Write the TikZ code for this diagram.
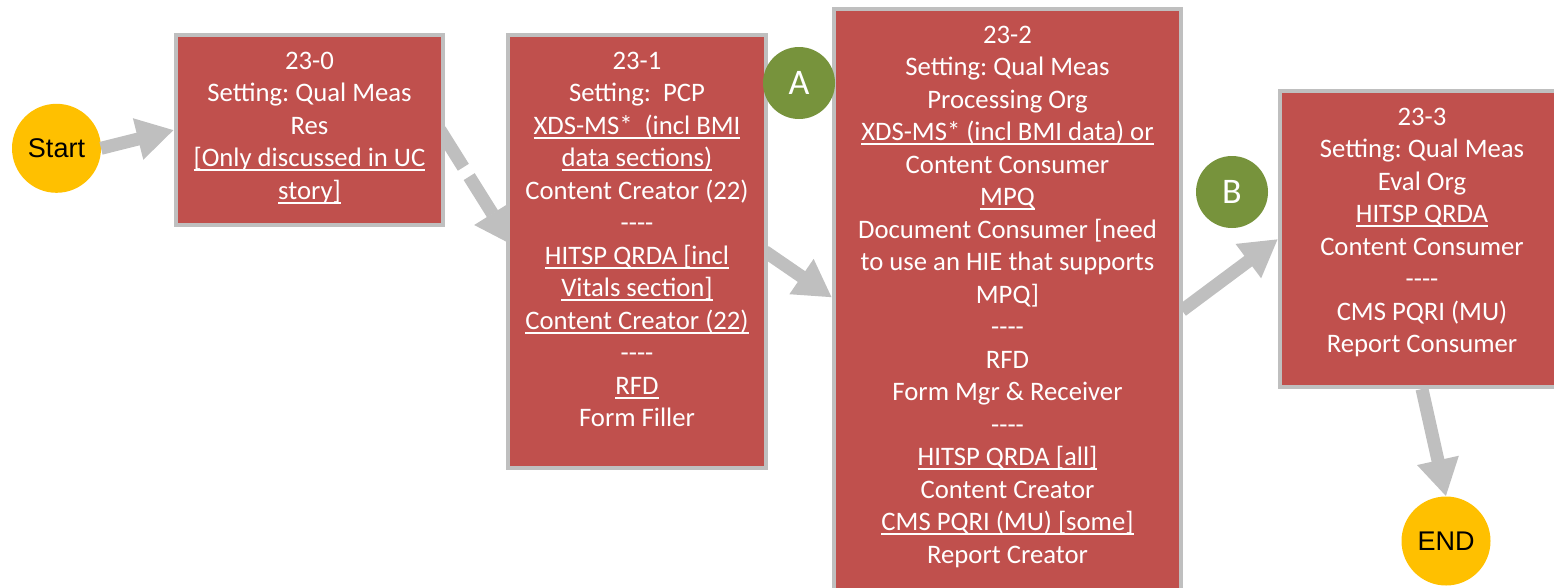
\documentclass[tikz,border=0pt]{standalone}
\usepackage{fontspec}
\setmainfont{Carlito}
\newfontfamily\arialfont{Liberation Sans}
\usetikzlibrary{arrows.meta,calc}
\definecolor{boxred}{HTML}{C0504D}
\definecolor{bordergray}{HTML}{BFBFBF}
\definecolor{arrowgray}{HTML}{BFBFBF}
\definecolor{okgreen}{HTML}{77933C}
\definecolor{startyellow}{HTML}{FFC000}
\newsavebox\ulbox
\newcommand\uln[1]{\sbox\ulbox{#1}\rlap{\rule[-4.5pt]{\wd\ulbox}{2pt}}\usebox\ulbox}
\newcommand\fourdash{-{}-{}-{}-}
\frenchspacing
\begin{document}
\begin{tikzpicture}[x=1pt,y=-1pt,
  stepbox/.style={draw=bordergray, fill=boxred, line width=4pt, inner sep=0pt, rectangle},
  txt/.style={text=white, align=center, inner sep=0pt, anchor=north,
    font=\fontsize{26.7}{32.5}\selectfont},
  term/.style={circle, fill=startyellow, inner sep=0pt, outer sep=0pt, minimum size=89pt,
    font=\arialfont\fontsize{27}{30}\selectfont, text=black},
  marker/.style={circle, fill=okgreen, inner sep=0pt, outer sep=0pt, minimum size=72pt,
    font=\fontsize{36}{40}\selectfont, text=white},
  conn/.style={draw=arrowgray, line width=13pt, -{Triangle[length=37pt,width=40pt]}},
  dconn/.style={conn, dash pattern=on 44pt off 11pt}]
\useasboundingbox (0,0) rectangle (1554,587);

% terminal nodes
\node[term] (start) at (56.5,148.3) {Start};
\node[term] (end) at (1446,541) {END};

% box geometry (only boxes' positions; drawn after arrows)
\path node[stepbox, minimum width=267pt, minimum height=190pt, draw=none, fill=none] (b0) at (309.5,130) {}
      node[stepbox, minimum width=258pt, minimum height=433pt, draw=none, fill=none] (b1) at (637,251.5) {}
      node[stepbox, minimum width=347pt, minimum height=609pt, draw=none, fill=none] (b2) at (1007.5,313.5) {}
      node[stepbox, minimum width=284pt, minimum height=296pt, draw=none, fill=none] (b3) at (1422,239) {};

% connectors
\draw[conn] (start.east) -- (b0.west);
\draw[dconn] ($(b0.east)+(-5,0)$) -- ($(b1.west)+(6,-6.5)$);
\draw[conn] ($(b1.east)+(-3,0)$) -- ($(b2.west)+(0,-16)$);
\draw[conn] ($(b2.east)+(-1,-3)$) -- (b3.west);
\draw[conn] (b3.south) -- (end.north);

% boxes drawn over the connectors
\node[stepbox, minimum width=267pt, minimum height=190pt] (c0) at (b0.center) {};
\node[stepbox, minimum width=258pt, minimum height=433pt] (c1) at (b1.center) {};
\node[stepbox, minimum width=347pt, minimum height=609pt] (c2) at (b2.center) {};
\node[stepbox, minimum width=284pt, minimum height=296pt] (c3) at (b3.center) {};

% texts
\node[txt] (t0) at ([yshift=-13.5pt]c0.north) {\strut 23-0\\ Setting: Qual Meas\\ Res\\ \uln{[Only discussed in UC}\\ \uln{story]}};
\node[txt] (t1) at ([yshift=-13.5pt]c1.north) {\strut 23-1\\ Setting:\ \ PCP\\ \uln{XDS-MS*\ \ (incl BMI}\\ \uln{data sections)}\\ Content Creator (22)\\ \fourdash\\ \uln{HITSP QRDA [incl}\\ \uln{Vitals section]}\\ \uln{Content Creator (22)}\\ \fourdash\\ \uln{RFD}\\ Form Filler};
\node[txt] (t2) at ([yshift=-13.5pt]c2.north) {\strut 23-2\\ Setting: Qual Meas\\ Processing Org\\ \uln{XDS-MS* (incl BMI data) or}\\ Content Consumer\\ \uln{MPQ}\\ Document Consumer [need\\ to use an HIE that supports\\ MPQ]\\ \fourdash\\ RFD\\ Form Mgr \& Receiver\\ \fourdash\\ \uln{HITSP QRDA [all]}\\ Content Creator\\ \uln{CMS PQRI (MU) [some]}\\ Report Creator};
\node[txt] (t3) at ([yshift=-13.5pt]c3.north) {\strut 23-3\\ Setting: Qual Meas\\ Eval Org\\ \uln{HITSP QRDA}\\ Content Consumer\\ \fourdash\\ CMS PQRI (MU)\\ Report Consumer};

% markers
\node[marker] (A) at (799,83) {A};
\node[marker] (B) at (1232,192) {B};
\end{tikzpicture}
\end{document}
